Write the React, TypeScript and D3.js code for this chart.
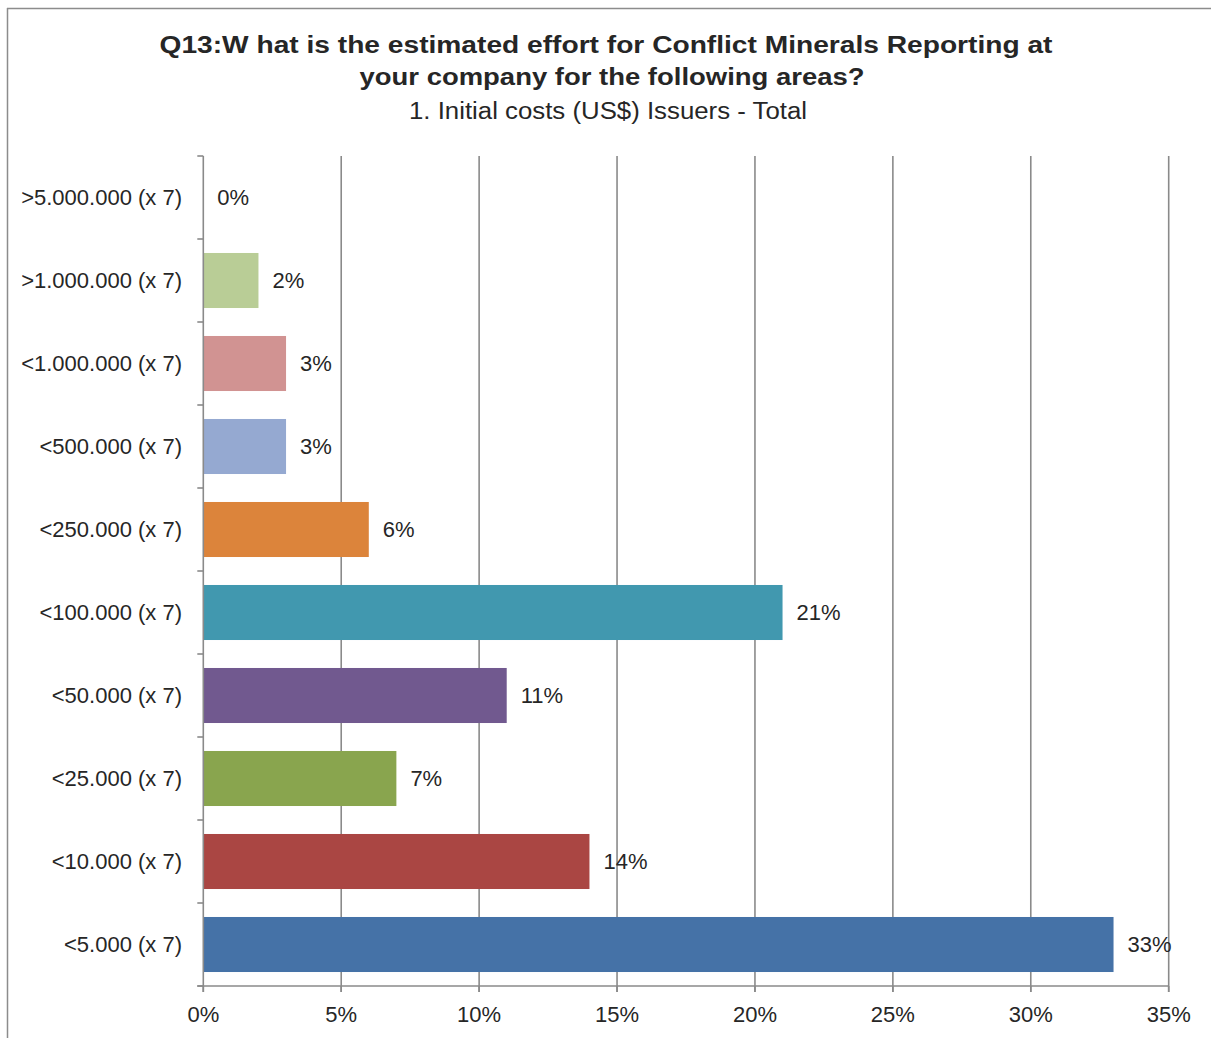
import React from "react";
import * as d3 from "d3";

const categories = [
  ">5.000.000 (x 7)",
  ">1.000.000 (x 7)",
  "<1.000.000 (x 7)",
  "<500.000 (x 7)",
  "<250.000 (x 7)",
  "<100.000 (x 7)",
  "<50.000 (x 7)",
  "<25.000 (x 7)",
  "<10.000 (x 7)",
  "<5.000 (x 7)",
];
const values = [0, 2, 3, 3, 6, 21, 11, 7, 14, 33];
const barColors = [
  "#A99BBD",
  "#B9CD96",
  "#D19392",
  "#95A9D1",
  "#DC843B",
  "#4198AF",
  "#71598F",
  "#89A54E",
  "#AA4643",
  "#4572A7",
];
const xTicks = [0, 5, 10, 15, 20, 25, 30, 35];
const titleLines = [
  "Q13:W hat is the estimated effort for Conflict Minerals Reporting at",
  "your company for the following areas?",
];
const subtitle = "1. Initial costs (US$) Issuers - Total";

const W = 1211;
const H = 1038;
const plot = { left: 203.3, right: 1168.7, top: 156, bottom: 986 };
const FONT = "'Liberation Sans', Arial, Helvetica, sans-serif";
const GRID = "#8A8A8A";
const TEXT = "#262626";

export default function App() {
  const x = d3.scaleLinear().domain([0, 35]).range([plot.left, plot.right]);
  const y = d3
    .scaleBand<string>()
    .domain(categories)
    .range([plot.top, plot.bottom])
    .paddingInner(0.337)
    .paddingOuter(0.1685);
  const band = (plot.bottom - plot.top) / categories.length;

  return (
    <div style={{ position: "absolute", left: 0, top: 0 }}>
      <svg width={W} height={H} style={{ display: "block", background: "#fff" }}>
        {/* chart frame */}
        <line x1={7.5} x2={7.5} y1={8} y2={H} stroke="#8C8C8C" strokeWidth={1.5} />
        <line x1={7} x2={W} y1={8.5} y2={8.5} stroke="#8C8C8C" strokeWidth={1.5} />

        {/* title */}
        <text
          x={606}
          y={52.5}
          textAnchor="middle"
          fontFamily={FONT}
          fontWeight="bold"
          fontSize={23}
          fill={TEXT}
          textLength={893}
          lengthAdjust="spacingAndGlyphs"
        >
          {titleLines[0]}
        </text>
        <text
          x={612}
          y={84.5}
          textAnchor="middle"
          fontFamily={FONT}
          fontWeight="bold"
          fontSize={23}
          fill={TEXT}
          textLength={505}
          lengthAdjust="spacingAndGlyphs"
        >
          {titleLines[1]}
        </text>
        <text
          x={608}
          y={119}
          textAnchor="middle"
          fontFamily={FONT}
          fontSize={23}
          fill={TEXT}
          textLength={398}
          lengthAdjust="spacingAndGlyphs"
        >
          {subtitle}
        </text>

        {/* vertical gridlines */}
        {xTicks.slice(1).map((t) => (
          <line
            key={"g" + t}
            x1={x(t)}
            x2={x(t)}
            y1={plot.top}
            y2={plot.bottom + 6}
            stroke={GRID}
            strokeWidth={1.6}
          />
        ))}

        {/* bars */}
        {categories.map((c, i) =>
          values[i] > 0 ? (
            <rect
              key={"b" + c}
              x={x(0)}
              y={y(c)}
              width={x(values[i]) - x(0)}
              height={y.bandwidth()}
              fill={barColors[i]}
            />
          ) : null
        )}

        {/* axes */}
        <line x1={plot.left} x2={plot.left} y1={plot.top} y2={plot.bottom + 6} stroke={GRID} strokeWidth={1.6} />
        <line x1={plot.left - 6} x2={plot.right} y1={plot.bottom} y2={plot.bottom} stroke={GRID} strokeWidth={1.6} />
        {d3.range(categories.length + 1).map((i) => (
          <line
            key={"yt" + i}
            x1={plot.left - 6}
            x2={plot.left}
            y1={plot.top + i * band}
            y2={plot.top + i * band}
            stroke={GRID}
            strokeWidth={1.6}
          />
        ))}
        {xTicks.map((t) => (
          <line
            key={"xt" + t}
            x1={x(t)}
            x2={x(t)}
            y1={plot.bottom}
            y2={plot.bottom + 6}
            stroke={GRID}
            strokeWidth={1.6}
          />
        ))}

        {/* x tick labels */}
        {xTicks.map((t) => (
          <text
            key={"xl" + t}
            x={x(t)}
            y={plot.bottom + 36}
            textAnchor="middle"
            fontFamily={FONT}
            fontSize={22}
            fill={TEXT}
          >
            {t + "%"}
          </text>
        ))}

        {/* category labels */}
        {categories.map((c) => (
          <text
            key={"cl" + c}
            x={182}
            y={(y(c) as number) + y.bandwidth() / 2}
            dy="0.35em"
            textAnchor="end"
            fontFamily={FONT}
            fontSize={22}
            fill={TEXT}
          >
            {c}
          </text>
        ))}

        {/* value labels */}
        {categories.map((c, i) => (
          <text
            key={"vl" + c}
            x={x(values[i]) + 14}
            y={(y(c) as number) + y.bandwidth() / 2}
            dy="0.35em"
            textAnchor="start"
            fontFamily={FONT}
            fontSize={22}
            fill={TEXT}
          >
            {values[i] + "%"}
          </text>
        ))}
      </svg>
    </div>
  );
}
